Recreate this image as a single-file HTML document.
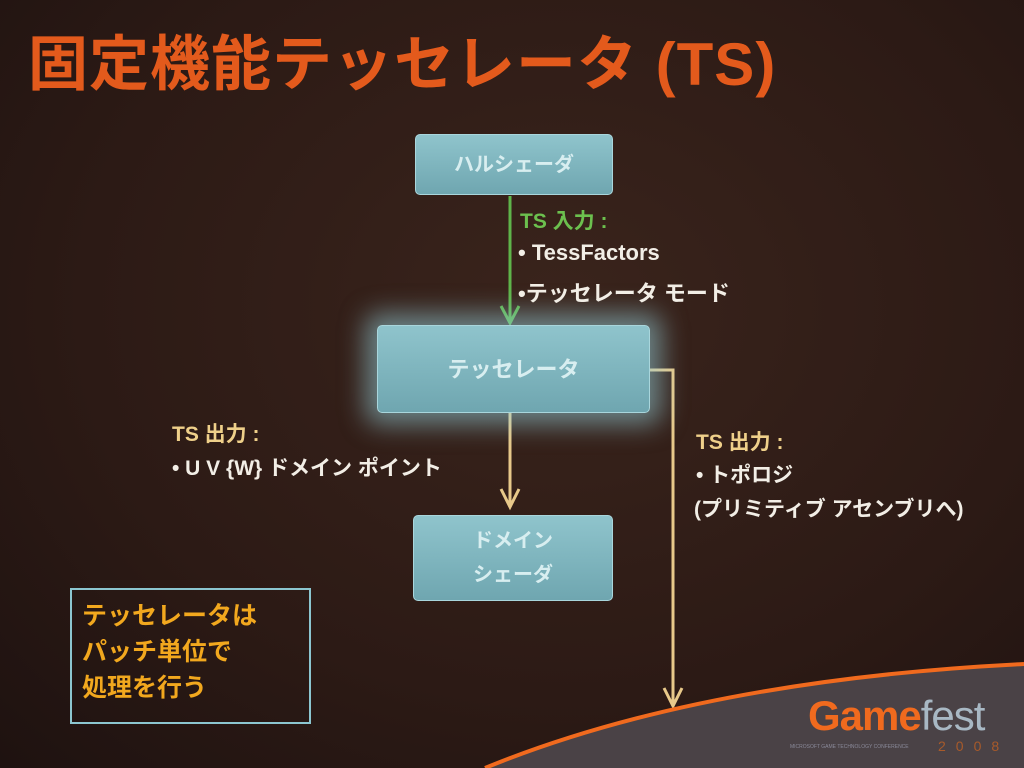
<!DOCTYPE html>
<html><head><meta charset="utf-8"><style>
body{margin:0;width:1024px;height:768px;overflow:hidden;background:radial-gradient(ellipse at 55% 40%,#3a241c 0%,#2c1a15 60%,#1e1210 100%);font-family:"Liberation Sans","Noto Sans CJK JP",sans-serif;position:relative}
.t{position:absolute;white-space:nowrap}
.box{position:absolute;background:linear-gradient(#8fc4cc,#6fa6b0);border-radius:5px;color:#d8eef0;font-weight:bold;text-align:center;box-sizing:border-box;border:1px solid #a9d6dc}
</style></head><body>
<div class="t" style="left:28px;top:16px;font-size:60px;font-weight:bold;color:#e35a1c;letter-spacing:1px">固定機能テッセレータ (TS)</div>
<svg width="1024" height="768" style="position:absolute;left:0;top:0">
<line x1="510" y1="196" x2="510" y2="323" stroke="#5fb44a" stroke-width="3"/>
<polyline points="501,306 510,323 519,306" fill="none" stroke="#5fb44a" stroke-width="3"/>
<line x1="510" y1="413" x2="510" y2="506" stroke="#e8c98a" stroke-width="3"/>
<polyline points="501,489 510,507 519,489" fill="none" stroke="#e8c98a" stroke-width="3"/>
<polyline points="650,370 673,370 673,705" fill="none" stroke="#e8c98a" stroke-width="3"/>
<polyline points="664,688 673,706 682,688" fill="none" stroke="#e8c98a" stroke-width="3"/>
<path d="M485,768 Q700,680 1024,664 L1024,768 Z" fill="#4a4246"/>
<path d="M485,768 Q700,680 1024,664" fill="none" stroke="#f06a1e" stroke-width="4"/>
</svg>
<div class="box" style="left:415px;top:134px;width:198px;height:61px;line-height:61px;font-size:20px">ハルシェーダ</div>
<div class="box" style="left:377px;top:325px;width:273px;height:88px;line-height:88px;font-size:22px;box-shadow:0 0 25px 12px rgba(150,210,220,0.55)">テッセレータ</div>
<div class="box" style="left:413px;top:515px;width:200px;height:86px;font-size:20px;line-height:34px;padding-top:8px">ドメイン<br>シェーダ</div>
<div class="t" style="left:520px;top:205px;font-size:21px;font-weight:bold;color:#6cc04e">TS 入力 :</div>
<div class="t" style="left:518px;top:240px;font-size:22px;color:#f2eee6;font-weight:bold">• TessFactors</div>
<div class="t" style="left:518px;top:276px;font-size:22px;color:#f2eee6;font-weight:bold">•テッセレータ モード</div>
<div class="t" style="left:172px;top:418px;font-size:21px;font-weight:bold;color:#efd08a">TS 出力 :</div>
<div class="t" style="left:172px;top:452px;font-size:21px;color:#f2eee6;font-weight:bold">• U V {W} ドメイン ポイント</div>
<div class="t" style="left:696px;top:426px;font-size:21px;font-weight:bold;color:#efd08a">TS 出力 :</div>
<div class="t" style="left:696px;top:459px;font-size:21px;color:#f2eee6;font-weight:bold">• トポロジ</div>
<div class="t" style="left:694px;top:493px;font-size:21px;color:#f2eee6;font-weight:bold">(プリミティブ アセンブリへ)</div>
<div style="position:absolute;left:70px;top:588px;width:241px;height:136px;border:2px solid #8cc6d0;box-sizing:border-box;color:#f2a81e;font-size:25px;font-weight:bold;line-height:36px;padding:8px 0 0 10px">テッセレータは<br>パッチ単位で<br>処理を行う</div>
<div class="t" style="left:808px;top:692px;font-size:42px;font-weight:bold;color:#f06a1e;letter-spacing:-1px">Game<span style="color:#a8b8c4;font-weight:normal">fest</span></div>
<div class="t" style="left:938px;top:738px;font-size:14px;color:#a85a2a;letter-spacing:10px">2008</div>
<div class="t" style="left:790px;top:744px;font-size:5px;color:#8a8a9a">MICROSOFT GAME TECHNOLOGY CONFERENCE</div>
</body></html>
